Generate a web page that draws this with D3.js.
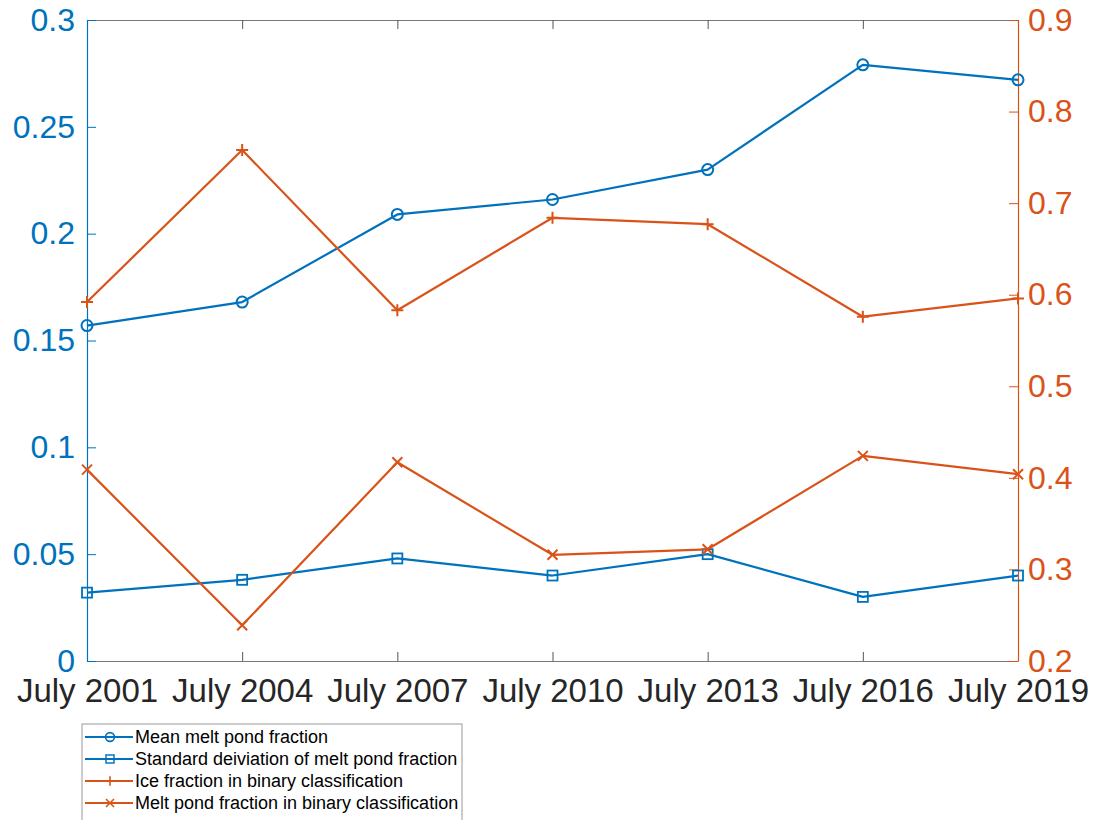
<!DOCTYPE html>
<html>
<head>
<meta charset="utf-8">
<script src="https://cdn.jsdelivr.net/npm/d3@7"></script>
<style>
  html, body { margin: 0; padding: 0; background: #fff; }
  svg { display: block; font-family: "Liberation Sans", Arial, sans-serif; }
</style>
</head>
<body>
<svg id="chart" width="1097" height="820"></svg>
<script>
// Survey dates along the x axis
const categories = ["July 2001", "July 2004", "July 2007", "July 2010", "July 2013", "July 2016", "July 2019"];

// Left-axis series
const meanMeltPond = [0.157, 0.168, 0.209, 0.216, 0.230, 0.279, 0.272];
const stdMeltPond  = [0.032, 0.038, 0.048, 0.040, 0.050, 0.030, 0.040];

// Right-axis series
const iceFractionBinary  = [0.592, 0.758, 0.583, 0.684, 0.677, 0.576, 0.596];
const pondFractionBinary = [0.409, 0.239, 0.417, 0.316, 0.322, 0.424, 0.404];

const leftTicks  = [0, 0.05, 0.1, 0.15, 0.2, 0.25, 0.3];
const rightTicks = [0.2, 0.3, 0.4, 0.5, 0.6, 0.7, 0.8, 0.9];

const legendLabels = [
  "Mean melt pond fraction",
  "Standard deiviation of melt pond fraction",
  "Ice fraction in binary classification",
  "Melt pond fraction in binary classification"
];

const BLUE = "#0072BD", ORANGE = "#D95319", DARK = "#262626";

const svg = d3.select("#chart");
const plot = { left: 87, right: 1018, top: 20, bottom: 661 };

const x = d3.scalePoint().domain(categories).range([plot.left, plot.right]);
const yL = d3.scaleLinear().domain([0, 0.3]).range([plot.bottom, plot.top]);
const yR = d3.scaleLinear().domain([0.2, 0.9]).range([plot.bottom, plot.top]);

const fmt = d => String(+d.toFixed(2));

// Top and bottom box edges with x ticks
const xBottom = svg.append("g").attr("transform", `translate(0,${plot.bottom})`)
  .call(d3.axisBottom(x).tickSizeInner(-9).tickSizeOuter(0).tickPadding(18));
xBottom.select(".domain").attr("stroke", "#777").attr("stroke-width", 1.2);
xBottom.selectAll(".tick line").attr("stroke", "#555");
xBottom.selectAll("text").attr("fill", DARK).attr("font-size", 33);

const xTop = svg.append("g").attr("transform", `translate(0,${plot.top})`)
  .call(d3.axisTop(x).tickSizeInner(-9).tickSizeOuter(0).tickFormat(""));
xTop.select(".domain").attr("stroke", "#777").attr("stroke-width", 1.2);
xTop.selectAll(".tick line").attr("stroke", "#555");

// Left axis (blue)
const axL = svg.append("g").attr("transform", `translate(${plot.left},0)`)
  .call(d3.axisLeft(yL).tickValues(leftTicks).tickFormat(fmt).tickSizeInner(-9).tickSizeOuter(0).tickPadding(12));
axL.select(".domain").attr("stroke", BLUE).attr("stroke-width", 1.2);
axL.selectAll(".tick line").attr("stroke", BLUE);
axL.selectAll("text").attr("fill", BLUE).attr("font-size", 32);

// Right axis (orange)
const axR = svg.append("g").attr("transform", `translate(${plot.right},0)`)
  .call(d3.axisRight(yR).tickValues(rightTicks).tickFormat(fmt).tickSizeInner(-9).tickSizeOuter(0).tickPadding(10));
axR.select(".domain").attr("stroke", ORANGE).attr("stroke-width", 1.2);
axR.selectAll(".tick line").attr("stroke", ORANGE);
axR.selectAll("text").attr("fill", ORANGE).attr("font-size", 32);

// Marker drawing helpers
function marker(g, kind, color) {
  if (kind === "circle") {
    g.append("circle").attr("r", 5.5).attr("fill", "none").attr("stroke", color).attr("stroke-width", 2);
  } else if (kind === "square") {
    g.append("rect").attr("x", -5).attr("y", -5).attr("width", 10).attr("height", 10)
      .attr("fill", "none").attr("stroke", color).attr("stroke-width", 1.8);
  } else if (kind === "plus") {
    g.append("path").attr("d", "M-6,0H6M0,-6V6").attr("stroke", color).attr("stroke-width", 2);
  } else if (kind === "cross") {
    g.append("path").attr("d", "M-5,-5L5,5M-5,5L5,-5").attr("stroke", color).attr("stroke-width", 2);
  }
}

const series = [
  { values: meanMeltPond, scale: yL, color: BLUE, kind: "circle" },
  { values: stdMeltPond, scale: yL, color: BLUE, kind: "square" },
  { values: iceFractionBinary, scale: yR, color: ORANGE, kind: "plus" },
  { values: pondFractionBinary, scale: yR, color: ORANGE, kind: "cross" }
];

series.forEach(s => {
  const line = d3.line().x((d, i) => x(categories[i])).y(d => s.scale(d));
  svg.append("path").datum(s.values).attr("d", line)
    .attr("fill", "none").attr("stroke", s.color).attr("stroke-width", 2.2).attr("stroke-linejoin", "round");
  s.values.forEach((v, i) => {
    const g = svg.append("g").attr("transform", `translate(${x(categories[i])},${s.scale(v)})`);
    marker(g, s.kind, s.color);
  });
});

// Legend
const lg = svg.append("g").attr("transform", "translate(82,724)");
lg.append("rect").attr("x", 0).attr("y", 0).attr("width", 380).attr("height", 100)
  .attr("fill", "#fff").attr("stroke", "#999").attr("stroke-width", 1);
series.forEach((s, i) => {
  const yy = 13 + i * 22;
  lg.append("line").attr("x1", 3).attr("x2", 51).attr("y1", yy).attr("y2", yy)
    .attr("stroke", s.color).attr("stroke-width", 2);
  const m = lg.append("g").attr("transform", `translate(28,${yy}) scale(0.8)`);
  marker(m, s.kind, s.color);
  lg.append("text").attr("x", 53).attr("y", yy).attr("dy", "0.35em")
    .attr("font-size", 18).attr("fill", "#000").text(legendLabels[i]);
});
</script>
</body>
</html>
